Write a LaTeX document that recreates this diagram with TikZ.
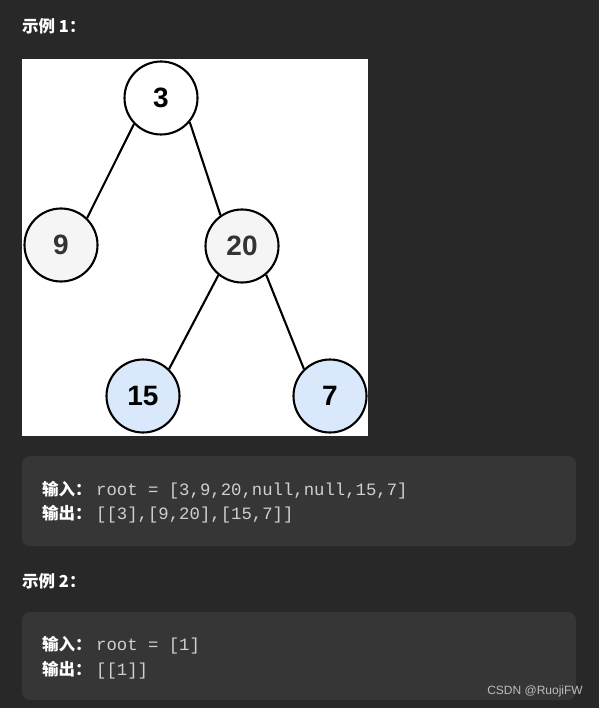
\documentclass[tikz,border=0pt]{standalone}
\usepackage{fontspec}
\setmainfont{Liberation Sans}
\newfontfamily\cjk{Noto Sans CJK SC}
\newfontfamily\codefont{Liberation Mono}
\definecolor{bgc}{HTML}{282828}
\definecolor{boxc}{HTML}{363636}
\definecolor{codec}{HTML}{CFCFCF}
\definecolor{grayfill}{HTML}{F5F5F5}
\definecolor{bluefill}{HTML}{DAE8FC}
\definecolor{darktext}{HTML}{333333}
\definecolor{markc}{HTML}{BDBDBD}
\begin{document}
\begin{tikzpicture}[x=1pt,y=-1pt,
  tnode/.style={circle,draw=black,line width=2.1pt,minimum size=73pt,inner sep=0pt,
    font=\fontsize{28}{32}\selectfont\bfseries},
  edge/.style={line width=2.1pt,draw=black},
  codebox/.style={fill=boxc,rounded corners=8pt},
  head/.style={anchor=base west,text=white,font=\cjk\fontsize{16.5}{19}\selectfont\bfseries},
  lbl/.style={anchor=base west,text=white,font=\cjk\fontsize{16.5}{19}\selectfont\bfseries},
  code/.style={anchor=base west,text=codec,font=\codefont\fontsize{17.3}{20}\selectfont}]
\fill[bgc] (0,0) rectangle (599,708);
\useasboundingbox (0,0) rectangle (599,708);
% heading 1
\node[head,inner sep=0pt] (h1) at (22,33) {示例 1：};
% picture area
\fill[white] (22,59) rectangle (368,436);
\node[tnode,fill=white] (n3) at (161,98) {3};
\node[tnode,fill=grayfill,text=darktext] (n9) at (61,245) {9};
\node[tnode,fill=grayfill,text=darktext] (n20) at (242,246) {20};
\node[tnode,fill=bluefill] (n15) at (143,396) {15};
\node[tnode,fill=bluefill] (n7) at (330,396) {7};
\draw[edge] (n3.224) -- (n9.46);
\draw[edge] (n3.320) -- (n20.125);
\draw[edge] (n20.231) -- (n15.46);
\draw[edge] (n20.310) -- (n7.134);
% box 1
\fill[codebox] (22,456) rectangle (576,546);
\node[lbl,inner sep=0pt] (i1) at (42,495) {输入：};
\node[code,inner sep=0pt] (c1) at (96,495) {root = [3,9,20,null,null,15,7]};
\node[lbl,inner sep=0pt] (o1) at (42,519) {输出：};
\node[code,inner sep=0pt] (d1) at (96,519) {[[3],[9,20],[15,7]]};
% heading 2
\node[head,inner sep=0pt] (h2) at (22,587) {示例 2：};
% box 2
\fill[codebox] (22,612) rectangle (576,700);
\node[lbl,inner sep=0pt] (i2) at (42,650) {输入：};
\node[code,inner sep=0pt] (c2) at (96,650) {root = [1]};
\node[lbl,inner sep=0pt] (o2) at (42,675) {输出：};
\node[code,inner sep=0pt] (d2) at (96,675) {[[1]]};
% watermark
\node[anchor=base east,inner sep=0pt,text=markc,font=\fontsize{12}{14}\selectfont] (wm) at (583,694) {CSDN @RuojiFW};
\end{tikzpicture}
\end{document}
